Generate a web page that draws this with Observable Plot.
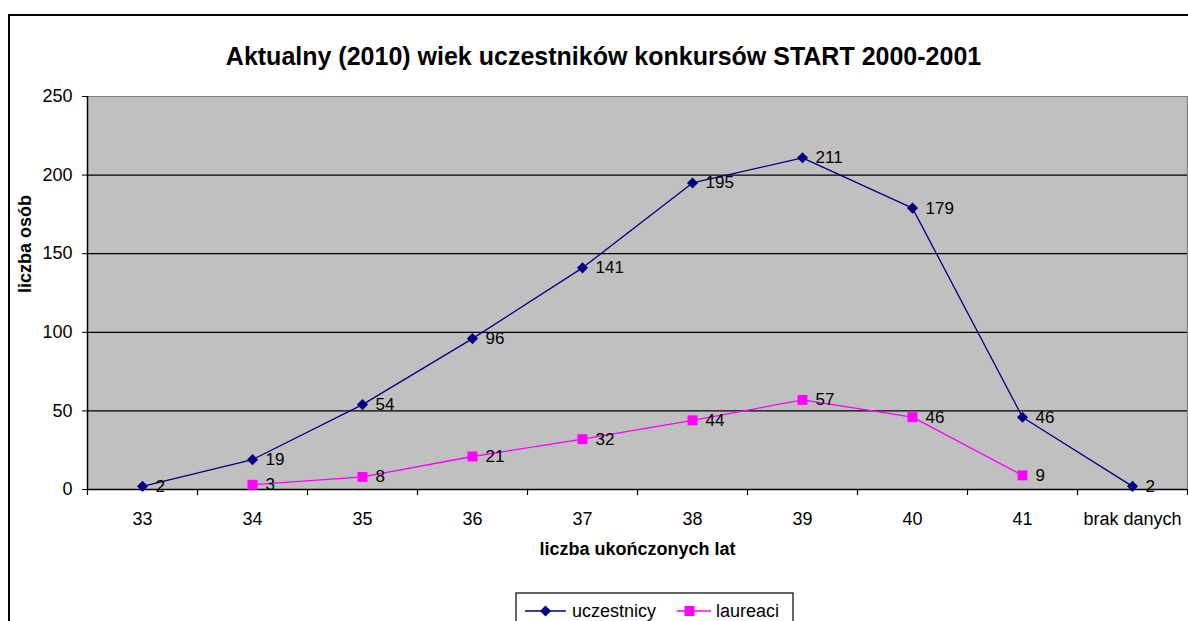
<!DOCTYPE html>
<html>
<head>
<meta charset="utf-8">
<script src="https://cdn.jsdelivr.net/npm/d3@7"></script>
<script src="https://cdn.jsdelivr.net/npm/@observablehq/plot@0.6"></script>
<style>
  html, body { margin: 0; padding: 0; background: #fff; overflow: hidden; }
  #chart { width: 1188px; height: 621px; }
</style>
</head>
<body>
<div id="chart"></div>
<script>
const categories = ["33", "34", "35", "36", "37", "38", "39", "40", "41", "brak danych"];
const uczestnicy = [2, 19, 54, 96, 141, 195, 211, 179, 46, 2];
const laureaci   = [null, 3, 8, 21, 32, 44, 57, 46, 9, null];
const yTicks = [0, 50, 100, 150, 200, 250];
const gridValues = [50, 100, 150, 200];
const title = "Aktualny (2010) wiek uczestników konkursów START 2000-2001";
const xLabel = "liczba ukończonych lat";
const yLabel = "liczba osób";
const seriesNames = ["uczestnicy", "laureaci"];

const NAVY = "#000080", PINK = "#FF00FF";
const rowsU = categories.map((c, i) => ({cat: c, v: uczestnicy[i]}));
const rowsL = categories.map((c, i) => ({cat: c, v: laureaci[i]})).filter(d => d.v != null);

const plot = Plot.plot({
  width: 1188,
  height: 621,
  marginLeft: 87,
  marginRight: 1,
  marginTop: 96,
  marginBottom: 132,
  style: {fontFamily: "'Liberation Sans', Arial, sans-serif", fontSize: "18px", color: "black", background: "white"},
  x: {type: "point", domain: categories, padding: 0.5},
  y: {domain: [0, 250]},
  marks: [
    Plot.frame({fill: "#c0c0c0", stroke: null}),
    Plot.ruleY(gridValues, {stroke: "black", strokeWidth: 1.2}),
    Plot.ruleY([250], {stroke: "#808080", strokeWidth: 1.2}),
    Plot.ruleX([categories[categories.length - 1]], {dx: 55, stroke: "#808080", strokeWidth: 1.2}),
    Plot.ruleX([categories[0]], {dx: -55, stroke: "black", strokeWidth: 1.5}),
    Plot.ruleY([0], {stroke: "black", strokeWidth: 1.5}),
    // boundary tick marks below x axis
    Plot.ruleX(categories, {x: d => d, y1: 0, y2: 0, dx: -55, insetBottom: -6, stroke: "black", strokeWidth: 1.2}),
    Plot.ruleX([categories[categories.length - 1]], {x: d => d, y1: 0, y2: 0, dx: 55, insetBottom: -6, stroke: "black", strokeWidth: 1.2}),
    Plot.axisY({ticks: yTicks, tickSize: 5, tickPadding: 10, fontSize: 18, label: null}),
    Plot.axisX({tickSize: 0, tickPadding: 23, fontSize: 18, label: null}),
    // series lines
    Plot.line(rowsU, {x: "cat", y: "v", stroke: NAVY, strokeWidth: 1.3}),
    Plot.line(rowsL, {x: "cat", y: "v", stroke: PINK, strokeWidth: 1.3}),
    Plot.dot(rowsU, {x: "cat", y: "v", symbol: "diamond2", r: 5, fill: NAVY, stroke: null}),
    Plot.dot(rowsL, {x: "cat", y: "v", symbol: "square", r: 5.6, fill: PINK, stroke: null}),
    Plot.text(rowsU, {x: "cat", y: "v", text: d => String(d.v), dx: 13, textAnchor: "start", fontSize: 17, fill: "black"}),
    Plot.text(rowsL, {x: "cat", y: "v", text: d => String(d.v), dx: 13, textAnchor: "start", fontSize: 17, fill: "black"}),
    // titles
    Plot.text([title], {frameAnchor: "top", dy: -49, dx: -34, fontSize: 25, fontWeight: "bold", fill: "black"}),
    Plot.text([xLabel], {frameAnchor: "bottom", dy: 65, fontSize: 18, fontWeight: "bold", fill: "black"}),
    Plot.text([yLabel], {frameAnchor: "left", dx: -62, rotate: -90, fontSize: 18, fontWeight: "bold", fill: "black"})
  ]
});

document.getElementById("chart").appendChild(plot);

// outer chart border and legend (decoration)
const svg = d3.select(plot);
svg.insert("rect", ":first-child")
  .attr("x", 9).attr("y", 15).attr("width", 1250).attr("height", 700)
  .attr("fill", "white").attr("stroke", "black").attr("stroke-width", 2);

const lg = svg.append("g")
  .style("font-family", "'Liberation Sans', Arial, sans-serif")
  .style("font-size", "18px")
  .attr("text-anchor", "start");
lg.append("rect").attr("x", 516).attr("y", 593).attr("width", 277).attr("height", 60)
  .attr("fill", "white").attr("stroke", "black").attr("stroke-width", 1.2);
// item 1
lg.append("line").attr("x1", 525).attr("x2", 566).attr("y1", 611).attr("y2", 611).attr("stroke", NAVY).attr("stroke-width", 1.3);
lg.append("path").attr("transform", "translate(545.5,611)").attr("d", d3.symbol(d3.symbolDiamond2, 78)()).attr("fill", NAVY);
lg.append("text").attr("x", 572).attr("y", 611).attr("dy", "0.35em").attr("text-anchor", "start").attr("fill", "black").text(seriesNames[0]);
// item 2
lg.append("line").attr("x1", 677).attr("x2", 711).attr("y1", 611).attr("y2", 611).attr("stroke", PINK).attr("stroke-width", 1.3);
lg.append("rect").attr("x", 684.5).attr("y", 606).attr("width", 10).attr("height", 10).attr("fill", PINK);
lg.append("text").attr("x", 716).attr("y", 611).attr("dy", "0.35em").attr("text-anchor", "start").attr("fill", "black").text(seriesNames[1]);
</script>
</body>
</html>
